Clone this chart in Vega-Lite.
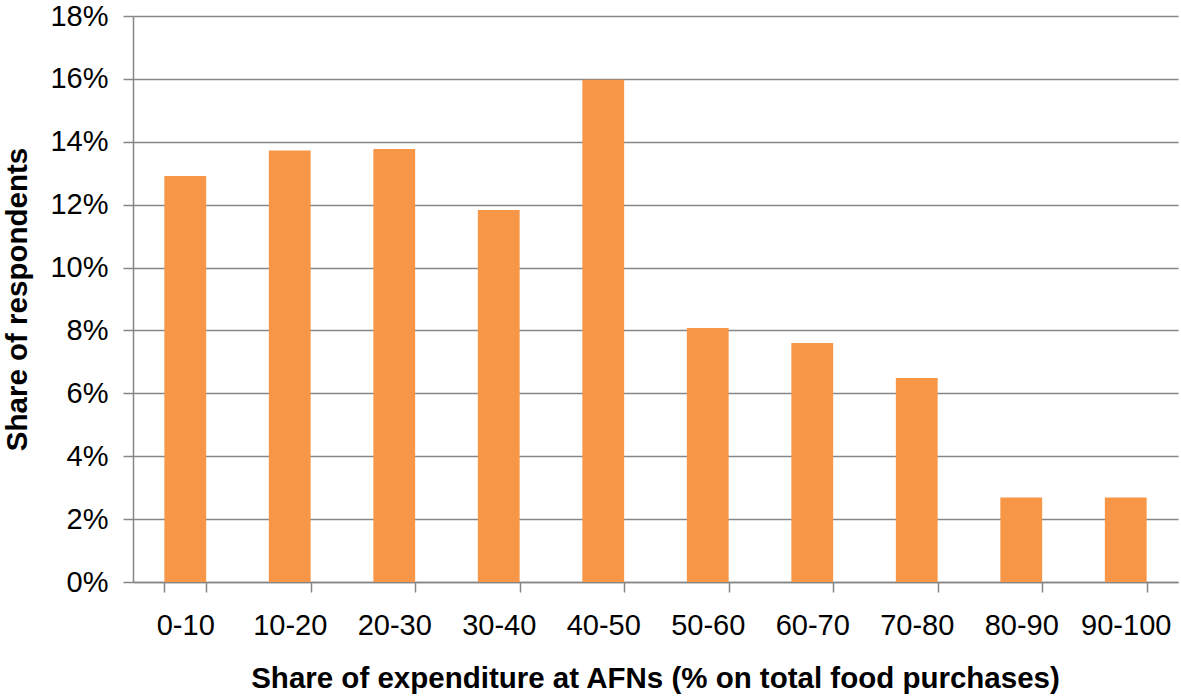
{
  "$schema": "https://vega.github.io/schema/vega-lite/v6.json",
  "width": 1045,
  "height": 566,
  "autosize": {"type": "none"},
  "padding": {"left": 133, "top": 16, "right": 3, "bottom": 115},
  "background": "white",
  "config": {
    "view": {"stroke": null},
    "font": "Liberation Sans"
  },
  "data": {
    "values": [
      {"range": "0-10", "share": 0.1291},
      {"range": "10-20", "share": 0.1372},
      {"range": "20-30", "share": 0.1377},
      {"range": "30-40", "share": 0.1183},
      {"range": "40-50", "share": 0.1597},
      {"range": "50-60", "share": 0.0808},
      {"range": "60-70", "share": 0.0760},
      {"range": "70-80", "share": 0.0649},
      {"range": "80-90", "share": 0.0269},
      {"range": "90-100", "share": 0.0269}
    ]
  },
  "mark": {"type": "bar", "color": "#F79646"},
  "encoding": {
    "x": {
      "field": "range",
      "type": "nominal",
      "sort": null,
      "scale": {"paddingInner": 0.6, "paddingOuter": 0.3},
      "axis": {
        "title": "Share of expenditure at AFNs (% on total food purchases)",
        "titleFont": "Liberation Sans",
        "titleFontSize": 29.5,
        "titleFontWeight": "bold",
        "titleColor": "black",
        "titleBaseline": "alphabetic",
        "titleX": 522,
        "titleY": 105,
        "titleAlign": "center",
        "labelAngle": 0,
        "labelFontSize": 29,
        "labelColor": "black",
        "labelBaseline": "alphabetic",
        "labelPadding": 42,
        "tickBand": "extent",
        "tickSize": 10,
        "tickColor": "#868686",
        "tickWidth": 1.5,
        "domainColor": "#868686",
        "domainWidth": 1.5,
        "grid": false
      }
    },
    "y": {
      "field": "share",
      "type": "quantitative",
      "scale": {"domain": [0, 0.18], "nice": false},
      "axis": {
        "title": "Share of respondents",
        "titleFont": "Liberation Sans",
        "titleFontSize": 29.5,
        "titleFontWeight": "bold",
        "titleColor": "black",
        "titleAngle": -90,
        "titleBaseline": "middle",
        "titleAlign": "center",
        "titleX": -116,
        "titleY": 283,
        "values": [0, 0.02, 0.04, 0.06, 0.08, 0.1, 0.12, 0.14, 0.16, 0.18],
        "format": ".0%",
        "labelFontSize": 29,
        "labelColor": "black",
        "labelPadding": 15,
        "tickSize": 10,
        "tickColor": "#868686",
        "tickWidth": 1.5,
        "domainColor": "#868686",
        "domainWidth": 1.5,
        "gridColor": "#868686",
        "gridWidth": 1.5
      }
    }
  }
}
